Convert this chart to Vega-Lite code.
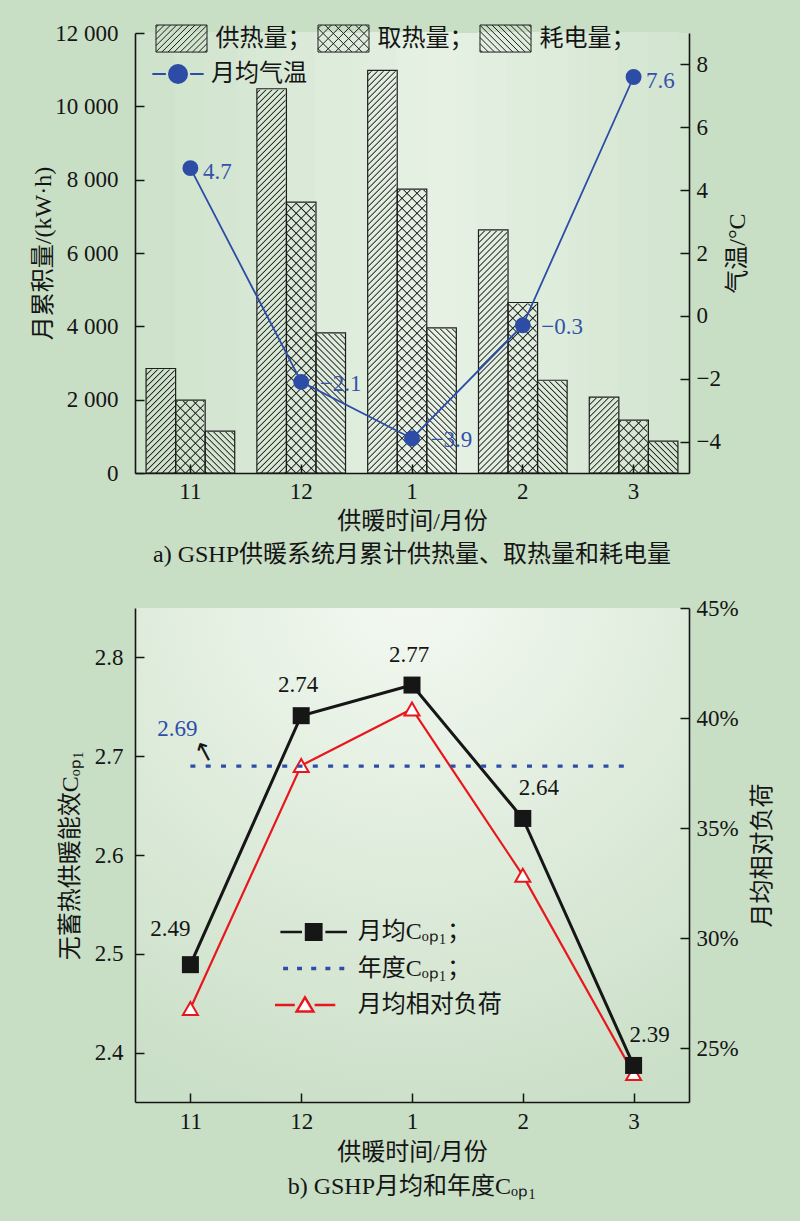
{
"$schema": "https://vega.github.io/schema/vega-lite/v6.json",
"background": "#c8dec5",
"padding": {"left": 31, "top": 12, "right": 27, "bottom": 22},
"spacing": 30,
"resolve": {"scale": {"stroke": "independent", "fill": "independent"}, "legend": {"stroke": "independent", "fill": "independent"}},
"config": {
  "font": "Liberation Serif, Noto Sans CJK SC",
  "view": {"stroke": null},
  "axis": {"domainColor": "#151515", "domainWidth": 1.6, "tickColor": "#151515", "tickWidth": 1.5, "tickSize": -9, "labelFont": "Liberation Serif", "labelFontSize": 23, "labelColor": "#151515", "titleFont": "Liberation Serif, Noto Sans CJK SC", "titleFontSize": 24, "titleFontWeight": "normal", "titleColor": "#151515", "grid": false},
  "legend": {"labelFont": "Liberation Serif, Noto Sans CJK SC", "labelFontSize": 24, "labelColor": "#151515", "symbolOpacity": 1, "padding": 0},
  "title": {"font": "Liberation Serif, Noto Sans CJK SC", "fontSize": 24, "fontWeight": "normal", "color": "#151515"}
},
"datasets": {
  "bars": [
    {"month": "11", "type": "供热量", "value": 2850}, {"month": "11", "type": "取热量", "value": 1990}, {"month": "11", "type": "耗电量", "value": 1140},
    {"month": "12", "type": "供热量", "value": 10480}, {"month": "12", "type": "取热量", "value": 7390}, {"month": "12", "type": "耗电量", "value": 3820},
    {"month": "1", "type": "供热量", "value": 10980}, {"month": "1", "type": "取热量", "value": 7740}, {"month": "1", "type": "耗电量", "value": 3960},
    {"month": "2", "type": "供热量", "value": 6630}, {"month": "2", "type": "取热量", "value": 4650}, {"month": "2", "type": "耗电量", "value": 2530},
    {"month": "3", "type": "供热量", "value": 2070}, {"month": "3", "type": "取热量", "value": 1440}, {"month": "3", "type": "耗电量", "value": 870}
  ],
  "temp": [
    {"month": "11", "temp": 4.7}, {"month": "12", "temp": -2.1}, {"month": "1", "temp": -3.9}, {"month": "2", "temp": -0.3}, {"month": "3", "temp": 7.6}
  ],
  "cop": [
    {"month": "11", "cop": 2.489, "load": 0.268}, {"month": "12", "cop": 2.741, "load": 0.3784}, {"month": "1", "cop": 2.772, "load": 0.4041}, {"month": "2", "cop": 2.637, "load": 0.3285}, {"month": "3", "cop": 2.387, "load": 0.2384}
  ],
  "annual": [{"cop": 2.69}]
},
"vconcat": [
{
  "width": 554, "height": 440,
  "view": {"stroke": null, "fill": {"gradient": "linear", "x1": 0, "y1": 0, "x2": 1, "y2": 0, "stops": [{"offset": 0, "color": "#cde2ca"}, {"offset": 0.55, "color": "#e6f1e4"}, {"offset": 1, "color": "#d2e5cf"}]}},
  "title": {"text": "a) GSHP供暖系统月累计供热量、取热量和耗电量", "orient": "bottom", "offset": 10},
  "layer": [
    {"data": {"name": "bars"}, "layer": [
      {"transform": [{"filter": "datum.type==='供热量'"}],
       "mark": {"type": "bar", "fill": {"gradient": "linear", "x1": 0, "y1": 0, "x2": 0.07293, "y2": 1.08602, "stops": [
{"offset":0.085,"color":"#0000"},{"offset":0.0875,"color":"#222"},{"offset":0.09,"color":"#0000"},
{"offset":0.0975,"color":"#0000"},{"offset":0.1,"color":"#222"},{"offset":0.1025,"color":"#0000"},
{"offset":0.11,"color":"#0000"},{"offset":0.1125,"color":"#222"},{"offset":0.115,"color":"#0000"},
{"offset":0.1225,"color":"#0000"},{"offset":0.125,"color":"#222"},{"offset":0.1275,"color":"#0000"},
{"offset":0.135,"color":"#0000"},{"offset":0.1375,"color":"#222"},{"offset":0.14,"color":"#0000"},
{"offset":0.1475,"color":"#0000"},{"offset":0.15,"color":"#222"},{"offset":0.1525,"color":"#0000"},
{"offset":0.16,"color":"#0000"},{"offset":0.1625,"color":"#222"},{"offset":0.165,"color":"#0000"},
{"offset":0.1725,"color":"#0000"},{"offset":0.175,"color":"#222"},{"offset":0.1775,"color":"#0000"},
{"offset":0.185,"color":"#0000"},{"offset":0.1875,"color":"#222"},{"offset":0.19,"color":"#0000"},
{"offset":0.1975,"color":"#0000"},{"offset":0.2,"color":"#222"},{"offset":0.2025,"color":"#0000"},
{"offset":0.21,"color":"#0000"},{"offset":0.2125,"color":"#222"},{"offset":0.215,"color":"#0000"},
{"offset":0.2225,"color":"#0000"},{"offset":0.225,"color":"#222"},{"offset":0.2275,"color":"#0000"},
{"offset":0.235,"color":"#0000"},{"offset":0.2375,"color":"#222"},{"offset":0.24,"color":"#0000"},
{"offset":0.2475,"color":"#0000"},{"offset":0.25,"color":"#222"},{"offset":0.2525,"color":"#0000"},
{"offset":0.26,"color":"#0000"},{"offset":0.2625,"color":"#222"},{"offset":0.265,"color":"#0000"},
{"offset":0.2725,"color":"#0000"},{"offset":0.275,"color":"#222"},{"offset":0.2775,"color":"#0000"},
{"offset":0.285,"color":"#0000"},{"offset":0.2875,"color":"#222"},{"offset":0.29,"color":"#0000"},
{"offset":0.2975,"color":"#0000"},{"offset":0.3,"color":"#222"},{"offset":0.3025,"color":"#0000"},
{"offset":0.31,"color":"#0000"},{"offset":0.3125,"color":"#222"},{"offset":0.315,"color":"#0000"},
{"offset":0.3225,"color":"#0000"},{"offset":0.325,"color":"#222"},{"offset":0.3275,"color":"#0000"},
{"offset":0.335,"color":"#0000"},{"offset":0.3375,"color":"#222"},{"offset":0.34,"color":"#0000"},
{"offset":0.3475,"color":"#0000"},{"offset":0.35,"color":"#222"},{"offset":0.3525,"color":"#0000"},
{"offset":0.36,"color":"#0000"},{"offset":0.3625,"color":"#222"},{"offset":0.365,"color":"#0000"},
{"offset":0.3725,"color":"#0000"},{"offset":0.375,"color":"#222"},{"offset":0.3775,"color":"#0000"},
{"offset":0.385,"color":"#0000"},{"offset":0.3875,"color":"#222"},{"offset":0.39,"color":"#0000"},
{"offset":0.3975,"color":"#0000"},{"offset":0.4,"color":"#222"},{"offset":0.4025,"color":"#0000"},
{"offset":0.41,"color":"#0000"},{"offset":0.4125,"color":"#222"},{"offset":0.415,"color":"#0000"},
{"offset":0.4225,"color":"#0000"},{"offset":0.425,"color":"#222"},{"offset":0.4275,"color":"#0000"},
{"offset":0.435,"color":"#0000"},{"offset":0.4375,"color":"#222"},{"offset":0.44,"color":"#0000"},
{"offset":0.4475,"color":"#0000"},{"offset":0.45,"color":"#222"},{"offset":0.4525,"color":"#0000"},
{"offset":0.46,"color":"#0000"},{"offset":0.4625,"color":"#222"},{"offset":0.465,"color":"#0000"},
{"offset":0.4725,"color":"#0000"},{"offset":0.475,"color":"#222"},{"offset":0.4775,"color":"#0000"},
{"offset":0.485,"color":"#0000"},{"offset":0.4875,"color":"#222"},{"offset":0.49,"color":"#0000"},
{"offset":0.4975,"color":"#0000"},{"offset":0.5,"color":"#222"},{"offset":0.5025,"color":"#0000"},
{"offset":0.51,"color":"#0000"},{"offset":0.5125,"color":"#222"},{"offset":0.515,"color":"#0000"},
{"offset":0.5225,"color":"#0000"},{"offset":0.525,"color":"#222"},{"offset":0.5275,"color":"#0000"},
{"offset":0.535,"color":"#0000"},{"offset":0.5375,"color":"#222"},{"offset":0.54,"color":"#0000"},
{"offset":0.5475,"color":"#0000"},{"offset":0.55,"color":"#222"},{"offset":0.5525,"color":"#0000"},
{"offset":0.56,"color":"#0000"},{"offset":0.5625,"color":"#222"},{"offset":0.565,"color":"#0000"},
{"offset":0.5725,"color":"#0000"},{"offset":0.575,"color":"#222"},{"offset":0.5775,"color":"#0000"},
{"offset":0.585,"color":"#0000"},{"offset":0.5875,"color":"#222"},{"offset":0.59,"color":"#0000"},
{"offset":0.5975,"color":"#0000"},{"offset":0.6,"color":"#222"},{"offset":0.6025,"color":"#0000"},
{"offset":0.61,"color":"#0000"},{"offset":0.6125,"color":"#222"},{"offset":0.615,"color":"#0000"},
{"offset":0.6225,"color":"#0000"},{"offset":0.625,"color":"#222"},{"offset":0.6275,"color":"#0000"},
{"offset":0.635,"color":"#0000"},{"offset":0.6375,"color":"#222"},{"offset":0.64,"color":"#0000"},
{"offset":0.6475,"color":"#0000"},{"offset":0.65,"color":"#222"},{"offset":0.6525,"color":"#0000"},
{"offset":0.66,"color":"#0000"},{"offset":0.6625,"color":"#222"},{"offset":0.665,"color":"#0000"},
{"offset":0.6725,"color":"#0000"},{"offset":0.675,"color":"#222"},{"offset":0.6775,"color":"#0000"},
{"offset":0.685,"color":"#0000"},{"offset":0.6875,"color":"#222"},{"offset":0.69,"color":"#0000"},
{"offset":0.6975,"color":"#0000"},{"offset":0.7,"color":"#222"},{"offset":0.7025,"color":"#0000"},
{"offset":0.71,"color":"#0000"},{"offset":0.7125,"color":"#222"},{"offset":0.715,"color":"#0000"},
{"offset":0.7225,"color":"#0000"},{"offset":0.725,"color":"#222"},{"offset":0.7275,"color":"#0000"},
{"offset":0.735,"color":"#0000"},{"offset":0.7375,"color":"#222"},{"offset":0.74,"color":"#0000"},
{"offset":0.7475,"color":"#0000"},{"offset":0.75,"color":"#222"},{"offset":0.7525,"color":"#0000"},
{"offset":0.76,"color":"#0000"},{"offset":0.7625,"color":"#222"},{"offset":0.765,"color":"#0000"},
{"offset":0.7725,"color":"#0000"},{"offset":0.775,"color":"#222"},{"offset":0.7775,"color":"#0000"},
{"offset":0.785,"color":"#0000"},{"offset":0.7875,"color":"#222"},{"offset":0.79,"color":"#0000"},
{"offset":0.7975,"color":"#0000"},{"offset":0.8,"color":"#222"},{"offset":0.8025,"color":"#0000"},
{"offset":0.81,"color":"#0000"},{"offset":0.8125,"color":"#222"},{"offset":0.815,"color":"#0000"},
{"offset":0.8225,"color":"#0000"},{"offset":0.825,"color":"#222"},{"offset":0.8275,"color":"#0000"},
{"offset":0.835,"color":"#0000"},{"offset":0.8375,"color":"#222"},{"offset":0.84,"color":"#0000"},
{"offset":0.8475,"color":"#0000"},{"offset":0.85,"color":"#222"},{"offset":0.8525,"color":"#0000"},
{"offset":0.86,"color":"#0000"},{"offset":0.8625,"color":"#222"},{"offset":0.865,"color":"#0000"},
{"offset":0.8725,"color":"#0000"},{"offset":0.875,"color":"#222"},{"offset":0.8775,"color":"#0000"},
{"offset":0.885,"color":"#0000"},{"offset":0.8875,"color":"#222"},{"offset":0.89,"color":"#0000"},
{"offset":0.8975,"color":"#0000"},{"offset":0.9,"color":"#222"},{"offset":0.9025,"color":"#0000"},
{"offset":0.91,"color":"#0000"},{"offset":0.9125,"color":"#222"},{"offset":0.915,"color":"#0000"},
{"offset":0.9225,"color":"#0000"},{"offset":0.925,"color":"#222"},{"offset":0.9275,"color":"#0000"},
{"offset":0.935,"color":"#0000"},{"offset":0.9375,"color":"#222"},{"offset":0.94,"color":"#0000"},
{"offset":0.9475,"color":"#0000"},{"offset":0.95,"color":"#222"},{"offset":0.9525,"color":"#0000"},
{"offset":0.96,"color":"#0000"},{"offset":0.9625,"color":"#222"},{"offset":0.965,"color":"#0000"},
{"offset":0.9725,"color":"#0000"},{"offset":0.975,"color":"#222"},{"offset":0.9775,"color":"#0000"}
       ]}},
       "encoding": {
         "x": {"field": "month", "type": "nominal", "scale": {"type": "band", "domain": ["11","12","1","2","3"], "paddingInner": 0.2, "paddingOuter": 0.1}, "axis": {"title": "供暖时间/月份", "labelAngle": 0, "labelPadding": 16, "titlePadding": 6}},
         "xOffset": {"field": "type", "type": "nominal", "scale": {"domain": ["供热量","取热量","耗电量"], "paddingInner": 0, "paddingOuter": 0}},
         "y": {"datum": 12000, "type": "quantitative", "scale": {"domain": [0, 12000], "nice": false}, "axis": {"orient": "left", "title": "月累积量/(kW·h)", "values": [0,2000,4000,6000,8000,10000,12000], "labelExpr": "replace(format(datum.value, ','), ',', ' ')", "labelPadding": 26, "titlePadding": -1}}
       }},
      {"transform": [{"filter": "datum.type==='取热量'"}],
       "mark": {"type": "bar", "fill": {"gradient": "linear", "x1": 0, "y1": 0, "x2": 0.07597, "y2": 1.13126, "stops": [
{"offset":0.3175,"color":"#0000"},{"offset":0.32,"color":"#222"},{"offset":0.3225,"color":"#0000"},
{"offset":0.3375,"color":"#0000"},{"offset":0.34,"color":"#222"},{"offset":0.3425,"color":"#0000"},
{"offset":0.3575,"color":"#0000"},{"offset":0.36,"color":"#222"},{"offset":0.3625,"color":"#0000"},
{"offset":0.3775,"color":"#0000"},{"offset":0.38,"color":"#222"},{"offset":0.3825,"color":"#0000"},
{"offset":0.3975,"color":"#0000"},{"offset":0.4,"color":"#222"},{"offset":0.4025,"color":"#0000"},
{"offset":0.4175,"color":"#0000"},{"offset":0.42,"color":"#222"},{"offset":0.4225,"color":"#0000"},
{"offset":0.4375,"color":"#0000"},{"offset":0.44,"color":"#222"},{"offset":0.4425,"color":"#0000"},
{"offset":0.4575,"color":"#0000"},{"offset":0.46,"color":"#222"},{"offset":0.4625,"color":"#0000"},
{"offset":0.4775,"color":"#0000"},{"offset":0.48,"color":"#222"},{"offset":0.4825,"color":"#0000"},
{"offset":0.4975,"color":"#0000"},{"offset":0.5,"color":"#222"},{"offset":0.5025,"color":"#0000"},
{"offset":0.5175,"color":"#0000"},{"offset":0.52,"color":"#222"},{"offset":0.5225,"color":"#0000"},
{"offset":0.5375,"color":"#0000"},{"offset":0.54,"color":"#222"},{"offset":0.5425,"color":"#0000"},
{"offset":0.5575,"color":"#0000"},{"offset":0.56,"color":"#222"},{"offset":0.5625,"color":"#0000"},
{"offset":0.5775,"color":"#0000"},{"offset":0.58,"color":"#222"},{"offset":0.5825,"color":"#0000"},
{"offset":0.5975,"color":"#0000"},{"offset":0.6,"color":"#222"},{"offset":0.6025,"color":"#0000"},
{"offset":0.6175,"color":"#0000"},{"offset":0.62,"color":"#222"},{"offset":0.6225,"color":"#0000"},
{"offset":0.6375,"color":"#0000"},{"offset":0.64,"color":"#222"},{"offset":0.6425,"color":"#0000"},
{"offset":0.6575,"color":"#0000"},{"offset":0.66,"color":"#222"},{"offset":0.6625,"color":"#0000"},
{"offset":0.6775,"color":"#0000"},{"offset":0.68,"color":"#222"},{"offset":0.6825,"color":"#0000"},
{"offset":0.6975,"color":"#0000"},{"offset":0.7,"color":"#222"},{"offset":0.7025,"color":"#0000"},
{"offset":0.7175,"color":"#0000"},{"offset":0.72,"color":"#222"},{"offset":0.7225,"color":"#0000"},
{"offset":0.7375,"color":"#0000"},{"offset":0.74,"color":"#222"},{"offset":0.7425,"color":"#0000"},
{"offset":0.7575,"color":"#0000"},{"offset":0.76,"color":"#222"},{"offset":0.7625,"color":"#0000"},
{"offset":0.7775,"color":"#0000"},{"offset":0.78,"color":"#222"},{"offset":0.7825,"color":"#0000"},
{"offset":0.7975,"color":"#0000"},{"offset":0.8,"color":"#222"},{"offset":0.8025,"color":"#0000"},
{"offset":0.8175,"color":"#0000"},{"offset":0.82,"color":"#222"},{"offset":0.8225,"color":"#0000"},
{"offset":0.8375,"color":"#0000"},{"offset":0.84,"color":"#222"},{"offset":0.8425,"color":"#0000"},
{"offset":0.8575,"color":"#0000"},{"offset":0.86,"color":"#222"},{"offset":0.8625,"color":"#0000"},
{"offset":0.8775,"color":"#0000"},{"offset":0.88,"color":"#222"},{"offset":0.8825,"color":"#0000"},
{"offset":0.8975,"color":"#0000"},{"offset":0.9,"color":"#222"},{"offset":0.9025,"color":"#0000"},
{"offset":0.9175,"color":"#0000"},{"offset":0.92,"color":"#222"},{"offset":0.9225,"color":"#0000"}
       ]}},
       "encoding": {
         "x": {"field": "month", "type": "nominal"},
         "xOffset": {"field": "type", "type": "nominal"},
         "y": {"datum": 12000, "type": "quantitative"}
       }},
      {"transform": [{"filter": "datum.type==='取热量'"}],
       "mark": {"type": "bar", "fill": {"gradient": "linear", "x1": 1, "y1": 0, "x2": 0.92403, "y2": 1.13126, "stops": [
{"offset":0.3175,"color":"#0000"},{"offset":0.32,"color":"#222"},{"offset":0.3225,"color":"#0000"},
{"offset":0.3375,"color":"#0000"},{"offset":0.34,"color":"#222"},{"offset":0.3425,"color":"#0000"},
{"offset":0.3575,"color":"#0000"},{"offset":0.36,"color":"#222"},{"offset":0.3625,"color":"#0000"},
{"offset":0.3775,"color":"#0000"},{"offset":0.38,"color":"#222"},{"offset":0.3825,"color":"#0000"},
{"offset":0.3975,"color":"#0000"},{"offset":0.4,"color":"#222"},{"offset":0.4025,"color":"#0000"},
{"offset":0.4175,"color":"#0000"},{"offset":0.42,"color":"#222"},{"offset":0.4225,"color":"#0000"},
{"offset":0.4375,"color":"#0000"},{"offset":0.44,"color":"#222"},{"offset":0.4425,"color":"#0000"},
{"offset":0.4575,"color":"#0000"},{"offset":0.46,"color":"#222"},{"offset":0.4625,"color":"#0000"},
{"offset":0.4775,"color":"#0000"},{"offset":0.48,"color":"#222"},{"offset":0.4825,"color":"#0000"},
{"offset":0.4975,"color":"#0000"},{"offset":0.5,"color":"#222"},{"offset":0.5025,"color":"#0000"},
{"offset":0.5175,"color":"#0000"},{"offset":0.52,"color":"#222"},{"offset":0.5225,"color":"#0000"},
{"offset":0.5375,"color":"#0000"},{"offset":0.54,"color":"#222"},{"offset":0.5425,"color":"#0000"},
{"offset":0.5575,"color":"#0000"},{"offset":0.56,"color":"#222"},{"offset":0.5625,"color":"#0000"},
{"offset":0.5775,"color":"#0000"},{"offset":0.58,"color":"#222"},{"offset":0.5825,"color":"#0000"},
{"offset":0.5975,"color":"#0000"},{"offset":0.6,"color":"#222"},{"offset":0.6025,"color":"#0000"},
{"offset":0.6175,"color":"#0000"},{"offset":0.62,"color":"#222"},{"offset":0.6225,"color":"#0000"},
{"offset":0.6375,"color":"#0000"},{"offset":0.64,"color":"#222"},{"offset":0.6425,"color":"#0000"},
{"offset":0.6575,"color":"#0000"},{"offset":0.66,"color":"#222"},{"offset":0.6625,"color":"#0000"},
{"offset":0.6775,"color":"#0000"},{"offset":0.68,"color":"#222"},{"offset":0.6825,"color":"#0000"},
{"offset":0.6975,"color":"#0000"},{"offset":0.7,"color":"#222"},{"offset":0.7025,"color":"#0000"},
{"offset":0.7175,"color":"#0000"},{"offset":0.72,"color":"#222"},{"offset":0.7225,"color":"#0000"},
{"offset":0.7375,"color":"#0000"},{"offset":0.74,"color":"#222"},{"offset":0.7425,"color":"#0000"},
{"offset":0.7575,"color":"#0000"},{"offset":0.76,"color":"#222"},{"offset":0.7625,"color":"#0000"},
{"offset":0.7775,"color":"#0000"},{"offset":0.78,"color":"#222"},{"offset":0.7825,"color":"#0000"},
{"offset":0.7975,"color":"#0000"},{"offset":0.8,"color":"#222"},{"offset":0.8025,"color":"#0000"},
{"offset":0.8175,"color":"#0000"},{"offset":0.82,"color":"#222"},{"offset":0.8225,"color":"#0000"},
{"offset":0.8375,"color":"#0000"},{"offset":0.84,"color":"#222"},{"offset":0.8425,"color":"#0000"},
{"offset":0.8575,"color":"#0000"},{"offset":0.86,"color":"#222"},{"offset":0.8625,"color":"#0000"},
{"offset":0.8775,"color":"#0000"},{"offset":0.88,"color":"#222"},{"offset":0.8825,"color":"#0000"},
{"offset":0.8975,"color":"#0000"},{"offset":0.9,"color":"#222"},{"offset":0.9025,"color":"#0000"},
{"offset":0.9175,"color":"#0000"},{"offset":0.92,"color":"#222"},{"offset":0.9225,"color":"#0000"}
       ]}},
       "encoding": {
         "x": {"field": "month", "type": "nominal"},
         "xOffset": {"field": "type", "type": "nominal"},
         "y": {"datum": 12000, "type": "quantitative"}
       }},
      {"transform": [{"filter": "datum.type==='耗电量'"}],
       "mark": {"type": "bar", "fill": {"gradient": "linear", "x1": 1, "y1": 0, "x2": 0.92707, "y2": 1.08602, "stops": [
{"offset":0.61,"color":"#0000"},{"offset":0.6125,"color":"#222"},{"offset":0.615,"color":"#0000"},
{"offset":0.6225,"color":"#0000"},{"offset":0.625,"color":"#222"},{"offset":0.6275,"color":"#0000"},
{"offset":0.635,"color":"#0000"},{"offset":0.6375,"color":"#222"},{"offset":0.64,"color":"#0000"},
{"offset":0.6475,"color":"#0000"},{"offset":0.65,"color":"#222"},{"offset":0.6525,"color":"#0000"},
{"offset":0.66,"color":"#0000"},{"offset":0.6625,"color":"#222"},{"offset":0.665,"color":"#0000"},
{"offset":0.6725,"color":"#0000"},{"offset":0.675,"color":"#222"},{"offset":0.6775,"color":"#0000"},
{"offset":0.685,"color":"#0000"},{"offset":0.6875,"color":"#222"},{"offset":0.69,"color":"#0000"},
{"offset":0.6975,"color":"#0000"},{"offset":0.7,"color":"#222"},{"offset":0.7025,"color":"#0000"},
{"offset":0.71,"color":"#0000"},{"offset":0.7125,"color":"#222"},{"offset":0.715,"color":"#0000"},
{"offset":0.7225,"color":"#0000"},{"offset":0.725,"color":"#222"},{"offset":0.7275,"color":"#0000"},
{"offset":0.735,"color":"#0000"},{"offset":0.7375,"color":"#222"},{"offset":0.74,"color":"#0000"},
{"offset":0.7475,"color":"#0000"},{"offset":0.75,"color":"#222"},{"offset":0.7525,"color":"#0000"},
{"offset":0.76,"color":"#0000"},{"offset":0.7625,"color":"#222"},{"offset":0.765,"color":"#0000"},
{"offset":0.7725,"color":"#0000"},{"offset":0.775,"color":"#222"},{"offset":0.7775,"color":"#0000"},
{"offset":0.785,"color":"#0000"},{"offset":0.7875,"color":"#222"},{"offset":0.79,"color":"#0000"},
{"offset":0.7975,"color":"#0000"},{"offset":0.8,"color":"#222"},{"offset":0.8025,"color":"#0000"},
{"offset":0.81,"color":"#0000"},{"offset":0.8125,"color":"#222"},{"offset":0.815,"color":"#0000"},
{"offset":0.8225,"color":"#0000"},{"offset":0.825,"color":"#222"},{"offset":0.8275,"color":"#0000"},
{"offset":0.835,"color":"#0000"},{"offset":0.8375,"color":"#222"},{"offset":0.84,"color":"#0000"},
{"offset":0.8475,"color":"#0000"},{"offset":0.85,"color":"#222"},{"offset":0.8525,"color":"#0000"},
{"offset":0.86,"color":"#0000"},{"offset":0.8625,"color":"#222"},{"offset":0.865,"color":"#0000"},
{"offset":0.8725,"color":"#0000"},{"offset":0.875,"color":"#222"},{"offset":0.8775,"color":"#0000"},
{"offset":0.885,"color":"#0000"},{"offset":0.8875,"color":"#222"},{"offset":0.89,"color":"#0000"},
{"offset":0.8975,"color":"#0000"},{"offset":0.9,"color":"#222"},{"offset":0.9025,"color":"#0000"},
{"offset":0.91,"color":"#0000"},{"offset":0.9125,"color":"#222"},{"offset":0.915,"color":"#0000"},
{"offset":0.9225,"color":"#0000"},{"offset":0.925,"color":"#222"},{"offset":0.9275,"color":"#0000"},
{"offset":0.935,"color":"#0000"},{"offset":0.9375,"color":"#222"},{"offset":0.94,"color":"#0000"},
{"offset":0.9475,"color":"#0000"},{"offset":0.95,"color":"#222"},{"offset":0.9525,"color":"#0000"},
{"offset":0.96,"color":"#0000"},{"offset":0.9625,"color":"#222"},{"offset":0.965,"color":"#0000"},
{"offset":0.9725,"color":"#0000"},{"offset":0.975,"color":"#222"},{"offset":0.9775,"color":"#0000"}
       ]}},
       "encoding": {
         "x": {"field": "month", "type": "nominal"},
         "xOffset": {"field": "type", "type": "nominal"},
         "y": {"datum": 12000, "type": "quantitative"}
       }},
      {"mark": {"type": "bar", "strokeWidth": 1.8},
       "encoding": {
         "x": {"field": "month", "type": "nominal"},
         "xOffset": {"field": "type", "type": "nominal"},
         "y": {"field": "value", "type": "quantitative"},
         "y2": {"datum": 12000},
         "fill": {"condition": [
           {"test": "datum.month==='11'&&datum.type==='供热量'", "value": "#cfe3cc"},
           {"test": "datum.month==='11'&&datum.type==='取热量'", "value": "#d2e5cf"},
           {"test": "datum.month==='11'&&datum.type==='耗电量'", "value": "#d4e6d1"},
           {"test": "datum.month==='12'&&datum.type==='供热量'", "value": "#d8e9d6"},
           {"test": "datum.month==='12'&&datum.type==='取热量'", "value": "#dbead8"},
           {"test": "datum.month==='12'&&datum.type==='耗电量'", "value": "#ddecdb"},
           {"test": "datum.month==='1'&&datum.type==='供热量'", "value": "#e1eedf"},
           {"test": "datum.month==='1'&&datum.type==='取热量'", "value": "#e4f0e2"},
           {"test": "datum.month==='1'&&datum.type==='耗电量'", "value": "#e6f1e4"},
           {"test": "datum.month==='2'&&datum.type==='供热量'", "value": "#e2eedf"},
           {"test": "datum.month==='2'&&datum.type==='取热量'", "value": "#dfeddd"},
           {"test": "datum.month==='2'&&datum.type==='耗电量'", "value": "#ddecdb"},
           {"test": "datum.month==='3'&&datum.type==='供热量'", "value": "#d9e9d6"},
           {"test": "datum.month==='3'&&datum.type==='取热量'", "value": "#d6e8d4"},
           {"test": "datum.month==='3'&&datum.type==='耗电量'", "value": "#d4e6d1"}
         ], "value": "#dbead8"},
         "stroke": {"condition": [
           {"test": "datum.month==='11'&&datum.type==='供热量'", "value": "#cfe3cc"},
           {"test": "datum.month==='11'&&datum.type==='取热量'", "value": "#d2e5cf"},
           {"test": "datum.month==='11'&&datum.type==='耗电量'", "value": "#d4e6d1"},
           {"test": "datum.month==='12'&&datum.type==='供热量'", "value": "#d8e9d6"},
           {"test": "datum.month==='12'&&datum.type==='取热量'", "value": "#dbead8"},
           {"test": "datum.month==='12'&&datum.type==='耗电量'", "value": "#ddecdb"},
           {"test": "datum.month==='1'&&datum.type==='供热量'", "value": "#e1eedf"},
           {"test": "datum.month==='1'&&datum.type==='取热量'", "value": "#e4f0e2"},
           {"test": "datum.month==='1'&&datum.type==='耗电量'", "value": "#e6f1e4"},
           {"test": "datum.month==='2'&&datum.type==='供热量'", "value": "#e2eedf"},
           {"test": "datum.month==='2'&&datum.type==='取热量'", "value": "#dfeddd"},
           {"test": "datum.month==='2'&&datum.type==='耗电量'", "value": "#ddecdb"},
           {"test": "datum.month==='3'&&datum.type==='供热量'", "value": "#d9e9d6"},
           {"test": "datum.month==='3'&&datum.type==='取热量'", "value": "#d6e8d4"},
           {"test": "datum.month==='3'&&datum.type==='耗电量'", "value": "#d4e6d1"}
         ], "value": "#dbead8"}
       }},
      {"mark": {"type": "bar", "fill": "transparent", "strokeWidth": 1.2},
       "encoding": {
         "x": {"field": "month", "type": "nominal"},
         "xOffset": {"field": "type", "type": "nominal"},
         "y": {"field": "value", "type": "quantitative", "stack": null},
         "stroke": {"field": "type", "type": "nominal", "scale": {"domain": ["供热量","取热量","耗电量"], "range": ["#1e1e1e","#1e1e1e","#1e1e1e"]},
           "legend": {"title": null, "orient": "none", "legendX": 20.5, "legendY": -20.7, "direction": "horizontal", "columns": 3, "symbolSize": 2601, "labelOffset": 8, "columnPadding": 4, "labelExpr": "datum.label + '；'",
             "encoding": {"symbols": {
               "shape": {"value": {"expr": "datum.value==='供热量' ? 'M-1,-0.53H1V0.53H-1ZM-1,-0.44L-0.91,-0.53M-1,-0.2L-0.67,-0.53M-1,0.04L-0.43,-0.53M-1,0.28L-0.19,-0.53M-1,0.52L0.05,-0.53M-0.77,0.53L0.29,-0.53M-0.53,0.53L0.53,-0.53M-0.29,0.53L0.77,-0.53M-0.05,0.53L1,-0.52M0.19,0.53L1,-0.28M0.43,0.53L1,-0.04M0.67,0.53L1,0.2M0.91,0.53L1,0.44' : datum.value==='取热量' ? 'M-1,-0.53H1V0.53H-1ZM-1,-0.4L-0.87,-0.53M-1,0L-0.47,-0.53M-1,0.4L-0.07,-0.53M-0.73,0.53L0.33,-0.53M-0.33,0.53L0.73,-0.53M0.07,0.53L1,-0.4M0.47,0.53L1,0M0.87,0.53L1,0.4M1,-0.4L0.87,-0.53M1,0L0.47,-0.53M1,0.4L0.07,-0.53M0.73,0.53L-0.33,-0.53M0.33,0.53L-0.73,-0.53M-0.07,0.53L-1,-0.4M-0.47,0.53L-1,0M-0.87,0.53L-1,0.4' : 'M-1,-0.53H1V0.53H-1ZM1,-0.44L0.91,-0.53M1,-0.2L0.67,-0.53M1,0.04L0.43,-0.53M1,0.28L0.19,-0.53M1,0.52L-0.05,-0.53M0.77,0.53L-0.29,-0.53M0.53,0.53L-0.53,-0.53M0.29,0.53L-0.77,-0.53M0.05,0.53L-1,-0.52M-0.19,0.53L-1,-0.28M-0.43,0.53L-1,-0.04M-0.67,0.53L-1,0.2M-0.91,0.53L-1,0.44'"}},
               "fill": {"value": "transparent"},
               "stroke": {"value": "#1e1e1e"},
               "strokeWidth": {"value": 1}
             }}
           }}
       }}
    ]},
    {"data": {"name": "temp"}, "layer": [
      {"mark": {"type": "line", "color": "#2c4ca6", "strokeWidth": 1.8},
       "encoding": {
         "x": {"field": "month", "type": "nominal"},
         "y": {"field": "temp", "type": "quantitative", "scale": {"domain": [-5, 9], "nice": false}, "axis": {"orient": "right", "title": "气温/°C", "values": [-4,-2,0,2,4,6,8], "labelPadding": 16, "titlePadding": 5, "titleAngle": 270, "titleBaseline": "top"}}
       }},
      {"mark": {"type": "point", "filled": true, "size": 254, "opacity": 1},
       "encoding": {
         "x": {"field": "month", "type": "nominal"},
         "y": {"field": "temp", "type": "quantitative"},
         "fill": {"datum": "月均气温", "type": "nominal", "scale": {"range": ["#2c4ca6"]},
           "legend": {"title": null, "orient": "none", "legendX": 31, "legendY": 29, "symbolSize": 324, "labelOffset": 21,
             "encoding": {"symbols": {
               "shape": {"value": "M-2.85,0H-1.35M1.35,0H2.85M1,0A1,1,0,1,1,-1,0A1,1,0,1,1,1,0Z"},
               "fill": {"value": "#2c4ca6"},
               "stroke": {"value": "#2c4ca6"},
               "strokeWidth": {"value": 2}
             }}
           }}
       }},
      {"transform": [{"filter": "datum.temp > 0"}],
       "mark": {"type": "text", "align": "left", "baseline": "middle", "dx": 12.5, "dy": 3.5, "font": "Liberation Serif", "fontSize": 23, "color": "#3352a8"},
       "encoding": {
         "x": {"field": "month", "type": "nominal"},
         "y": {"field": "temp", "type": "quantitative"},
         "text": {"field": "temp", "type": "quantitative", "format": ".1f"}
       }},
      {"transform": [{"filter": "datum.temp < 0"}],
       "mark": {"type": "text", "align": "left", "baseline": "middle", "dx": 18.5, "dy": 2, "font": "Liberation Serif", "fontSize": 23, "color": "#3352a8"},
       "encoding": {
         "x": {"field": "month", "type": "nominal"},
         "y": {"field": "temp", "type": "quantitative"},
         "text": {"field": "temp", "type": "quantitative", "format": ".1f"}
       }}
    ]}
  ],
  "resolve": {"scale": {"y": "independent"}}
},
{
  "width": 554, "height": 494,
  "view": {"stroke": null, "fill": {"gradient": "radial", "x1": 0.5, "y1": 0.02, "r1": 0, "x2": 0.5, "y2": 0.02, "r2": 1, "stops": [{"offset": 0, "color": "#f4f9f2"}, {"offset": 0.5, "color": "#dfecdc"}, {"offset": 1, "color": "#cadfc7"}]}},
  "title": {"text": "b) GSHP月均和年度Cₒₚ₁", "orient": "bottom", "offset": 11},
  "layer": [
    {"data": {"name": "cop"}, "layer": [
      {"mark": {"type": "line", "strokeWidth": 2.2},
       "encoding": {
         "x": {"field": "month", "type": "nominal", "scale": {"type": "point", "domain": ["11","12","1","2","3"], "padding": 0.5}, "axis": {"title": "供暖时间/月份", "labelAngle": 0, "labelPadding": 17.5, "titlePadding": 6.5}},
         "y": {"field": "load", "type": "quantitative", "scale": {"domain": [0.2255, 0.45], "nice": false}, "axis": {"orient": "right", "title": "月均相对负荷", "values": [0.25,0.3,0.35,0.4,0.45], "format": ".0%", "labelPadding": 16, "titlePadding": 12, "titleAngle": 270, "titleBaseline": "top"}},
         "stroke": {"datum": "月均相对负荷", "type": "nominal", "scale": {"domain": ["月均Cₒₚ₁；","年度Cₒₚ₁；","月均相对负荷"], "range": ["#161616","#2d4ea8","#e8171e"]},
           "legend": {"title": null, "orient": "none", "legendX": 166.7, "legendY": 312, "direction": "vertical", "symbolSize": 324, "labelOffset": 32, "rowPadding": 11.5,
             "encoding": {"symbols": {
               "shape": {"value": {"expr": "datum.value==='月均Cₒₚ₁；' ? 'M-3.7,0H-1.3M1.3,0H3.7M-0.85,-0.85H0.85V0.85H-0.85Z' : datum.value==='年度Cₒₚ₁；' ? 'M-3.4,0H-2.85M-1.85,0H-1.3M-0.28,0H0.28M1.3,0H1.85M2.85,0H3.4' : 'M-4.3,0H-2.1M0.1,0H2.4M-0.97,-0.85L-0.04,0.72L-1.9,0.72Z'"}},
               "fill": {"value": {"expr": "datum.value==='月均Cₒₚ₁；' ? '#161616' : datum.value==='月均相对负荷' ? '#ffffff' : 'transparent'"}},
               "strokeWidth": {"value": {"expr": "datum.value==='年度Cₒₚ₁；' ? 3.3 : 2.5"}},
               "strokeDash": {"value": []}
             }}
           }}
       }},
      {"mark": {"type": "point", "shape": "triangle-up", "size": 225, "filled": true, "fill": "#ffffff", "stroke": "#e8171e", "strokeWidth": 2, "opacity": 1},
       "encoding": {
         "x": {"field": "month", "type": "nominal"},
         "y": {"field": "load", "type": "quantitative"}
       }}
    ]},
    {"layer": [
      {"data": {"name": "cop"}, "mark": {"type": "line", "strokeWidth": 3},
       "encoding": {
         "x": {"field": "month", "type": "nominal"},
         "y": {"field": "cop", "type": "quantitative", "scale": {"domain": [2.35, 2.85], "nice": false}, "axis": {"orient": "left", "title": "无蓄热供暖能效Cₒₚ₁", "values": [2.4,2.5,2.6,2.7,2.8], "format": ".1f", "labelPadding": 21, "titlePadding": 12}},
         "stroke": {"datum": "月均Cₒₚ₁；", "type": "nominal"}
       }},
      {"data": {"name": "annual"}, "mark": {"type": "rule", "strokeWidth": 3.3, "strokeDash": [5, 10.3]},
       "encoding": {
         "x": {"datum": "11"},
         "x2": {"datum": "3"},
         "y": {"field": "cop", "type": "quantitative"},
         "stroke": {"datum": "年度Cₒₚ₁；", "type": "nominal"}
       }},
      {"data": {"name": "annual"}, "mark": {"type": "text", "align": "center", "baseline": "middle", "dx": -13, "dy": -37, "font": "Liberation Serif", "fontSize": 23, "color": "#2d4ea8"},
       "encoding": {
         "x": {"datum": "11"},
         "y": {"field": "cop", "type": "quantitative"},
         "text": {"field": "cop", "type": "quantitative", "format": ".2f"}
       }},
      {"data": {"name": "annual"}, "mark": {"type": "text", "text": "↑", "align": "center", "baseline": "middle", "angle": -28, "dx": 19, "dy": -4.6, "font": "DejaVu Sans", "fontSize": 26, "color": "#151515"},
       "encoding": {
         "x": {"datum": "11"},
         "y": {"field": "cop", "type": "quantitative"}
       }},
      {"data": {"name": "cop"}, "mark": {"type": "point", "shape": "square", "size": 289, "filled": true, "color": "#161616", "opacity": 1},
       "encoding": {
         "x": {"field": "month", "type": "nominal"},
         "y": {"field": "cop", "type": "quantitative"}
       }},
      {"data": {"name": "cop"}, "transform": [{"filter": "datum.month==='11'"}],
       "mark": {"type": "text", "align": "center", "baseline": "middle", "dx": -20, "dy": -36, "font": "Liberation Serif", "fontSize": 23, "color": "#151515"},
       "encoding": {
         "x": {"field": "month", "type": "nominal"},
         "y": {"field": "cop", "type": "quantitative"},
         "text": {"field": "cop", "type": "quantitative", "format": ".2f"}
       }},
      {"data": {"name": "cop"}, "transform": [{"filter": "datum.month==='12' || datum.month==='1'"}],
       "mark": {"type": "text", "align": "center", "baseline": "middle", "dx": -3, "dy": -30.5, "font": "Liberation Serif", "fontSize": 23, "color": "#151515"},
       "encoding": {
         "x": {"field": "month", "type": "nominal"},
         "y": {"field": "cop", "type": "quantitative"},
         "text": {"field": "cop", "type": "quantitative", "format": ".2f"}
       }},
      {"data": {"name": "cop"}, "transform": [{"filter": "datum.month==='2' || datum.month==='3'"}],
       "mark": {"type": "text", "align": "center", "baseline": "middle", "dx": 16, "dy": -30, "font": "Liberation Serif", "fontSize": 23, "color": "#151515"},
       "encoding": {
         "x": {"field": "month", "type": "nominal"},
         "y": {"field": "cop", "type": "quantitative"},
         "text": {"field": "cop", "type": "quantitative", "format": ".2f"}
       }}
    ]}
  ],
  "resolve": {"scale": {"y": "independent"}}
}
]
}
